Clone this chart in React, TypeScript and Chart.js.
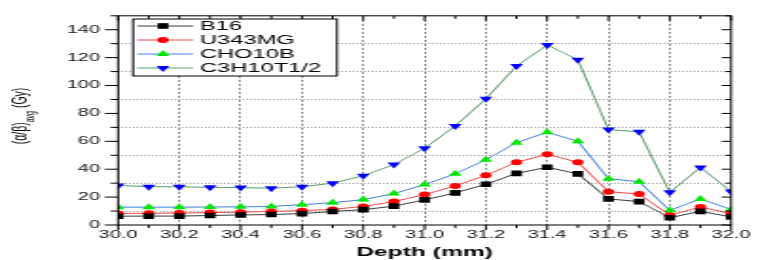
import React, { useEffect, useRef } from 'react';
import { Chart, registerables } from 'chart.js';

Chart.register(...registerables);

// ---- data ----
const depth = [30.0, 30.1, 30.2, 30.3, 30.4, 30.5, 30.6, 30.7, 30.8, 30.9, 31.0, 31.1, 31.2, 31.3, 31.4, 31.5, 31.6, 31.7, 31.8, 31.9, 32.0];
const b16 = [6.3, 6.4, 6.4, 6.8, 7.2, 7.5, 8.2, 9.7, 11, 13.5, 18, 23, 29.2, 37, 41.4, 36.7, 18.7, 16.8, 5.2, 9.8, 5.8];
const u343mg = [8.3, 8.4, 8.6, 8.9, 9.2, 9.7, 10.3, 11.2, 13.3, 16.8, 21.8, 28, 35.6, 45, 50.7, 45, 23.9, 22.2, 7, 12.9, 8.2];
const cho10b = [12.8, 12.8, 12.8, 12.9, 13, 13.3, 14.6, 16, 18.2, 22.5, 29, 36.7, 46.8, 59, 66.5, 60, 33.2, 31, 10.5, 18.7, 11.2];
const c3h10t12 = [28.4, 27.5, 27.4, 27, 26.8, 26.4, 27.4, 30, 35.3, 43.3, 55, 71, 90.5, 114, 129, 118.5, 68.4, 66.8, 23.4, 41.3, 24];
const seriesLabels = ['B16', 'U343MG', 'CHO10B', 'C3H10T1/2'];
const xTitle = 'Depth (mm)';

// internal canvas is narrower and stretched horizontally by CSS (like the reference)
const CW = 400;
const CH = 260;
const FONT = "'Liberation Sans', Arial, sans-serif";

function drawMarker(ctx: CanvasRenderingContext2D, style: string, x: number, y: number, r: number, rotation: number, color: string) {
  ctx.save();
  ctx.fillStyle = color;
  ctx.beginPath();
  if (style === 'rect') {
    const s = r * Math.SQRT1_2;
    ctx.rect(x - s, y - s, 2 * s, 2 * s);
  } else if (style === 'circle') {
    ctx.arc(x, y, r, 0, Math.PI * 2);
  } else {
    let rad = (rotation * Math.PI) / 180;
    ctx.moveTo(x + Math.sin(rad) * r, y - Math.cos(rad) * r);
    rad += (2 * Math.PI) / 3;
    ctx.lineTo(x + Math.sin(rad) * r, y - Math.cos(rad) * r);
    rad += (2 * Math.PI) / 3;
    ctx.lineTo(x + Math.sin(rad) * r, y - Math.cos(rad) * r);
    ctx.closePath();
  }
  ctx.fill();
  ctx.restore();
}

const framePlugin = {
  id: 'frameAndLegend',
  afterDraw(chart: any) {
    const { ctx, chartArea: a, scales } = chart;
    const xs = scales.x;
    const ys = scales.y;
    ctx.save();
    ctx.setLineDash([]);
    ctx.strokeStyle = '#000';
    ctx.lineWidth = 1;
    ctx.strokeRect(a.left, a.top, a.right - a.left, a.bottom - a.top);
    ctx.beginPath();
    xs.ticks.forEach((t: any, i: number) => {
      const px = xs.getPixelForValue(t.value);
      const L = i % 2 === 0 ? 5 : 3;
      ctx.moveTo(px, a.bottom);
      ctx.lineTo(px, a.bottom + L);
      ctx.moveTo(px, a.top);
      ctx.lineTo(px, a.top + L);
    });
    ys.ticks.forEach((t: any) => {
      const py = ys.getPixelForValue(t.value);
      const major = Math.round(t.value) % 20 === 0;
      ctx.moveTo(a.left - (major ? 7 : 4), py);
      ctx.lineTo(a.left, py);
      ctx.moveTo(a.right, py);
      ctx.lineTo(a.right - (major ? 5 : 3), py);
    });
    ctx.stroke();

    // legend box
    const bx = 70.2, by = 19, bw = 107.6, bh = 57;
    ctx.fillStyle = '#fff';
    ctx.fillRect(bx, by, bw, bh);
    ctx.strokeStyle = '#000';
    ctx.lineWidth = 1;
    ctx.strokeRect(bx, by, bw, bh);
    chart.data.datasets.forEach((ds: any, i: number) => {
      const y = 26 + i * 14;
      ctx.strokeStyle = ds.borderColor;
      ctx.lineWidth = 1;
      ctx.beginPath();
      ctx.moveTo(72.5, y);
      ctx.lineTo(101.8, y);
      ctx.stroke();
      drawMarker(ctx, ds.pointStyle, 86, y, ds.pointRadius, ds.pointRotation || 0, ds.pointBackgroundColor);
      ctx.fillStyle = '#000';
      ctx.font = `12.5px ${FONT}`;
      ctx.textAlign = 'left';
      ctx.textBaseline = 'middle';
      ctx.fillText(ds.label, 105.5, y + 0.5);
    });

    // x title
    ctx.fillStyle = '#000';
    ctx.font = `bold 13px ${FONT}`;
    ctx.textAlign = 'center';
    ctx.textBaseline = 'alphabetic';
    ctx.fillText(xTitle, (a.left + a.right) / 2, 256);

    // y title with subscript
    const mainFont = `10.5px ${FONT}`;
    const subFont = `7px ${FONT}`;
    const p1 = '(\u03b1/\u03b2)';
    const p2 = 'avg';
    const p3 = ' (Gy)';
    ctx.font = mainFont;
    const w1 = ctx.measureText(p1).width;
    const w3 = ctx.measureText(p3).width;
    ctx.font = subFont;
    const w2 = ctx.measureText(p2).width;
    const total = w1 + w2 + w3;
    ctx.translate(13.5, 116);
    ctx.rotate(-Math.PI / 2);
    ctx.textAlign = 'left';
    let cx = -total / 2;
    ctx.font = mainFont;
    ctx.fillText(p1, cx, 0);
    cx += w1;
    ctx.font = subFont;
    ctx.fillText(p2, cx, 4);
    cx += w2;
    ctx.font = mainFont;
    ctx.fillText(p3, cx, 0);
    ctx.restore();
  },
};

function series(values: number[]) {
  return depth.map((d, i) => ({ x: d, y: values[i] }));
}

export default function App() {
  const ref = useRef<HTMLCanvasElement | null>(null);
  useEffect(() => {
    if (!ref.current) return;
    const transparent = 'rgba(0,0,0,0)';
    const chart = new Chart(ref.current, {
      type: 'line',
      data: {
        datasets: [
          {
            label: seriesLabels[0], data: series(b16), borderColor: '#3a3a3a', borderWidth: 1,
            pointStyle: 'rect', pointRadius: 4, pointBackgroundColor: '#000000', pointBorderWidth: 0,
          },
          {
            label: seriesLabels[1], data: series(u343mg), borderColor: '#f04848', borderWidth: 1,
            pointStyle: 'circle', pointRadius: 3, pointBackgroundColor: '#ff0000', pointBorderWidth: 0,
          },
          {
            label: seriesLabels[2], data: series(cho10b), borderColor: '#3f7fe0', borderWidth: 1,
            pointStyle: 'triangle', pointRadius: 4, pointBackgroundColor: '#00e600', pointBorderWidth: 0,
          },
          {
            label: seriesLabels[3], data: series(c3h10t12), borderColor: '#5c9c70', borderWidth: 1,
            pointStyle: 'triangle', pointRotation: 180, pointRadius: 4, pointBackgroundColor: '#0000ff', pointBorderWidth: 0,
          },
        ] as any,
      },
      options: {
        animation: false,
        responsive: false,
        devicePixelRatio: 1,
        layout: { padding: { top: 12, right: 10, left: 0, bottom: 0 } },
        plugins: { legend: { display: false }, tooltip: { enabled: false } },
        elements: { line: { tension: 0 } },
        scales: {
          x: {
            type: 'linear',
            min: 30,
            max: 32,
            afterFit: (s: any) => { s.height = 35; },
            ticks: {
              stepSize: 0.1,
              maxTicksLimit: 100,
              autoSkip: false,
              maxRotation: 0,
              padding: 4,
              color: '#111',
              font: { family: FONT, size: 10.5 },
              callback: (v: any, i: number) => (i % 2 === 0 ? Number(v).toFixed(1) : ''),
            },
            grid: {
              drawTicks: false,
              lineWidth: 1,
              color: (c: any) => (c.index % 2 === 0 && c.index > 0 && c.index < 20 ? '#808080' : transparent),
            },
            border: { display: false, dash: [2, 2] },
          },
          y: {
            type: 'linear',
            min: 0,
            max: 150,
            afterFit: (s: any) => { s.width = 62.3; },
            ticks: {
              stepSize: 10,
              maxTicksLimit: 100,
              autoSkip: false,
              padding: 9.5,
              color: '#111',
              font: { family: FONT, size: 10.5 },
              callback: (v: any) => (Math.round(v) % 20 === 0 ? String(v) : ''),
            },
            grid: {
              drawTicks: false,
              lineWidth: 1,
              color: (c: any) => {
                const v = Math.round(c.tick.value);
                return v % 20 === 10 && v < 150 ? '#a8a8a8' : transparent;
              },
            },
            border: { display: false, dash: [1, 1] },
          },
        },
      } as any,
      plugins: [framePlugin],
    });
    return () => chart.destroy();
  }, []);
  return (
    <div style={{ position: 'absolute', left: 0, top: 0, width: 758, height: 260, background: '#fff' }}>
      <canvas ref={ref} width={CW} height={CH} style={{ width: '758px', height: '260px', display: 'block' }} />
    </div>
  );
}
